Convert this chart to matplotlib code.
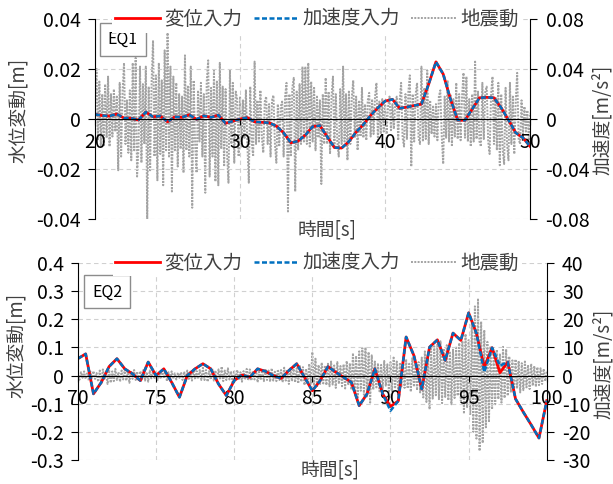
import matplotlib
matplotlib.use('Agg')
import matplotlib.pyplot as plt
import numpy as np

plt.rcParams['font.family'] = ['Noto Sans CJK JP', 'DejaVu Sans']
plt.rcParams['axes.unicode_minus'] = False

# ---- EQ1 : water level response (m), sampled every 0.5 s from 20 s to 50 s
eq1_time = np.arange(20.0, 50.01, 0.5)
eq1_disp = [0.0019, 0.0014, 0.0012, 0.0020, 0.0004, 0.0003, -0.0004, 0.0028, 0.0009, 0.0012,
            -0.0011, 0.0009, 0.0007, 0.0017, -0.0001, 0.0013, 0.0007, 0.0016, -0.0017, -0.0008,
            0.0000, 0.0006, -0.0011, -0.0013, -0.0015, -0.0028, -0.0055, -0.0095, -0.0088, -0.0064,
            -0.0030, -0.0026, -0.0070, -0.0114, -0.0116, -0.0090, -0.0052, -0.0022, 0.0015, 0.0045,
            0.0072, 0.0079, 0.0043, 0.0048, 0.0054, 0.0060, 0.0140, 0.0229, 0.0180, 0.0080,
            -0.0004, -0.0005, 0.0040, 0.0085, 0.0087, 0.0085, 0.0045, -0.0004, -0.0055, -0.0075,
            -0.0110]
eq1_acc = [0.0019, 0.0014, 0.0012, 0.0020, 0.0004, 0.0003, -0.0004, 0.0028, 0.0009, 0.0012,
           -0.0011, 0.0009, 0.0007, 0.0017, -0.0001, 0.0013, 0.0007, 0.0016, -0.0017, -0.0008,
           0.0000, 0.0006, -0.0011, -0.0013, -0.0015, -0.0028, -0.0055, -0.0095, -0.0088, -0.0064,
           -0.0030, -0.0026, -0.0070, -0.0114, -0.0116, -0.0090, -0.0052, -0.0022, 0.0015, 0.0045,
           0.0072, 0.0079, 0.0043, 0.0048, 0.0054, 0.0060, 0.0140, 0.0229, 0.0180, 0.0080,
           -0.0004, -0.0005, 0.0040, 0.0085, 0.0087, 0.0085, 0.0045, -0.0004, -0.0055, -0.0075,
           -0.0110]

# EQ1 ground acceleration (m/s2), every 0.1 s, one row per second
eq1_gm_time = np.arange(20.0, 50.001, 0.1)
eq1_gm = [
    0.010, 0.041, -0.017, 0.030, -0.022, 0.020, -0.022, 0.028, -0.015, 0.034,
    -0.022, 0.020, -0.014, 0.024, -0.010, 0.018, -0.041, 0.029, -0.030, 0.022,
    0.045, -0.020, 0.015, -0.027, 0.023, -0.033, 0.045, -0.025, 0.049, -0.046,
    -0.022, 0.042, -0.035, 0.028, -0.020, 0.042, -0.081, 0.026, -0.041, 0.030,
    0.063, -0.030, 0.035, -0.049, 0.045, -0.028, 0.031, -0.053, 0.055, -0.025,
    0.073, -0.030, 0.042, -0.058, 0.034, -0.025, 0.029, -0.038, 0.020, -0.024,
    0.018, -0.043, 0.051, -0.025, 0.026, -0.030, 0.042, -0.071, 0.031, -0.020,
    -0.043, 0.022, -0.018, 0.029, -0.030, 0.020, -0.059, 0.030, 0.047, -0.046,
    0.025, -0.030, 0.039, -0.050, 0.030, -0.053, 0.045, -0.024, 0.026, -0.038,
    0.024, -0.028, -0.051, 0.039, -0.020, 0.029, -0.035, 0.022, 0.016, -0.030,
    0.018, -0.022, 0.015, -0.016, 0.023, -0.020, -0.051, 0.026, -0.018, -0.030,
    0.046, -0.020, 0.015, -0.018, 0.023, -0.015, -0.027, 0.014, 0.018, -0.020,
    0.012, -0.030, 0.015, 0.019, -0.020, -0.035, 0.012, -0.022, 0.010, 0.014,
    -0.030, 0.018, 0.029, -0.074, 0.020, -0.030, 0.025, 0.033, -0.058, 0.022,
    -0.025, 0.028, -0.020, 0.042, -0.018, 0.042, -0.020, 0.045, -0.022, 0.030,
    -0.018, 0.026, -0.025, 0.018, -0.015, 0.015, -0.052, 0.020, -0.020, 0.033,
    -0.020, 0.022, -0.028, 0.018, 0.034, -0.022, 0.020, -0.018, -0.030, 0.024,
    -0.020, 0.042, -0.018, 0.020, -0.033, 0.022, -0.020, 0.018, 0.031, -0.015,
    0.018, -0.025, 0.015, -0.014, 0.025, -0.015, 0.012, -0.017, 0.015, 0.021,
    -0.014, 0.016, -0.012, 0.018, 0.029, -0.017, 0.014, -0.012, 0.016, -0.010,
    0.012, -0.012, 0.010, 0.018, -0.010, 0.012, -0.008, 0.014, 0.018, -0.017,
    0.015, 0.029, -0.015, -0.022, 0.020, -0.016, 0.022, 0.035, -0.038, 0.020,
    -0.018, 0.020, 0.029, -0.015, -0.020, 0.042, -0.018, 0.025, -0.016, 0.039,
    -0.020, 0.015, -0.012, 0.010, -0.014, 0.012, -0.017, 0.018, 0.023, -0.014,
    -0.036, 0.018, -0.015, 0.031, -0.018, 0.020, -0.022, 0.016, -0.014, 0.029,
    -0.016, 0.020, -0.017, 0.018, 0.037, -0.015, 0.034, -0.018, 0.016, -0.022,
    0.020, -0.018, 0.046, -0.016, 0.022, -0.018, -0.022, 0.029, -0.016, 0.022,
    0.026, -0.018, -0.028, 0.020, 0.034, -0.020, 0.018, -0.025, 0.029, -0.037,
    0.020, -0.025, -0.036, 0.025, -0.020, -0.033, 0.029, -0.020, 0.018, -0.028,
    0.015, 0.037, -0.016, -0.020, 0.015, -0.012, 0.010, -0.010, 0.007, -0.017,
    0.005]

# ---- EQ2 : water level response (m), every 0.5 s from 70 s to 100 s
eq2_time = np.arange(70.0, 100.01, 0.5)
eq2_disp = [0.060, 0.077, -0.065, -0.024, 0.032, 0.060, 0.024, 0.006, -0.018, 0.048,
            0.000, 0.024, -0.024, -0.077, 0.000, 0.024, 0.042, 0.024, -0.030, -0.071,
            -0.018, 0.002, -0.006, 0.024, 0.015, 0.000, -0.010, 0.018, 0.042, -0.006,
            -0.054, -0.018, 0.032, 0.012, -0.006, -0.024, -0.107, -0.065, 0.024, -0.065,
            -0.110, -0.090, 0.137, 0.071, -0.048, 0.101, 0.127, 0.054, 0.151, 0.125,
            0.223, 0.150, 0.030, 0.099, 0.010, 0.048, -0.083, -0.130, -0.175, -0.222,
            -0.089]
eq2_acc = [0.060, 0.077, -0.065, -0.024, 0.032, 0.060, 0.024, 0.006, -0.018, 0.048,
           0.000, 0.024, -0.024, -0.077, 0.000, 0.024, 0.042, 0.024, -0.030, -0.071,
           -0.018, 0.002, -0.006, 0.024, 0.015, 0.000, -0.010, 0.018, 0.042, -0.006,
           -0.054, -0.018, 0.032, 0.012, -0.006, -0.024, -0.107, -0.065, 0.024, -0.065,
           -0.125, -0.090, 0.137, 0.071, -0.048, 0.101, 0.127, 0.054, 0.151, 0.125,
           0.223, 0.150, 0.012, 0.099, 0.035, 0.048, -0.083, -0.130, -0.175, -0.222,
           -0.089]

# EQ2 ground acceleration (m/s2), every 0.1 s
eq2_gm_time = np.arange(70.0, 100.001, 0.1)
eq2_gm = [
    1.0, -1.5, 1.2, -0.8, 1.5, -1.2, 0.8, -1.8, 1.4, -1.0,
    1.6, -1.2, 0.9, -2.2, 1.8, -2.8, 2.2, -1.5, 1.2, -3.0,
    2.0, -2.6, 1.5, -2.0, 2.4, -1.6, 1.2, -2.2, 1.8, -1.4,
    2.2, -1.8, 1.5, -2.6, 1.8, -1.2, 2.0, -1.6, 1.4, -2.0,
    1.6, -1.4, 2.2, -1.8, 1.2, -2.2, 1.8, -1.0, 1.5, -1.2,
    1.2, -1.6, 1.0, -1.2, 1.8, -1.0, 1.4, -2.0, 1.2, -1.5,
    1.5, -1.2, 0.8, -1.4, 1.0, -0.8, 1.2, -1.6, 1.4, -1.0,
    1.8, -1.2, 1.4, -1.8, 2.2, -1.4, 1.6, -1.2, 2.0, -1.6,
    2.8, -1.6, 2.0, -2.2, 1.6, -1.4, 2.4, -1.8, 1.8, -2.0,
    2.2, -1.5, 3.2, -2.0, 1.8, -1.6, 2.6, -1.4, 1.5, -2.4,
    1.8, -1.4, 2.0, -1.6, 1.2, -2.2, 1.6, -1.4, 2.4, -1.8,
    2.2, -1.8, 1.6, -1.4, 2.0, -2.4, 1.4, -1.6, 1.8, -2.0,
    2.4, -1.6, 1.8, -2.2, 2.6, -1.8, 1.4, -2.0, 2.2, -1.6,
    2.0, -2.4, 2.8, -1.8, 2.2, -3.0, 2.6, -2.0, 3.0, -2.4,
    2.6, -2.8, 3.4, -2.2, 3.0, -3.4, 2.4, -2.6, 4.2, -3.0,
    8.4, -3.6, 6.0, -4.2, 3.8, -3.0, 4.6, -2.8, 3.6, -3.4,
    4.2, -3.8, 5.0, -3.2, 3.6, -4.4, 4.8, -3.0, 3.4, -3.8,
    4.0, -4.6, 5.2, -3.4, 4.4, -5.0, 8.0, -6.0, 7.0, -7.8,
    8.6, -5.4, 9.8, -6.8, 10.0, -7.4, 8.4, -9.6, 7.2, -5.0,
    5.0, -4.2, 4.4, -5.6, 3.8, -4.8, 5.2, -3.6, 4.0, -6.2,
    4.8, -5.6, 6.4, -4.2, 5.0, -6.8, 4.6, -3.8, 5.4, -4.4,
    5.8, -4.6, 4.2, -5.8, 6.2, -4.0, 3.6, -5.2, 4.8, -6.0,
    6.4, -7.8, 8.6, -9.4, 7.2, -12.0, 9.6, -8.2, 10.4, -7.0,
    11.0, -8.4, 12.2, -9.8, 9.6, -7.6, 10.8, -8.8, 8.2, -10.2,
    9.2, -8.0, 10.4, -7.2, 11.6, -9.0, 12.4, -13.6, 14.8, -11.2,
    12.6, -14.0, 18.4, -20.0, 24.6, -22.4, 27.4, -26.8, 19.2, -24.0,
    16.2, -18.4, 12.0, -16.6, 10.4, -12.0, 8.6, -10.2, 9.2, -8.4,
    7.8, -9.6, 10.2, -8.0, 9.4, -7.2, 6.8, -6.0, 5.4, -6.4,
    5.8, -4.6, 5.2, -6.0, 4.4, -5.2, 5.0, -4.2, 3.8, -4.8,
    4.2, -3.6, 3.4, -4.0, 3.0, -3.4, 2.6, -3.0, 2.4, -2.0,
    1.6]

series_names = ['変位入力', '加速度入力', '地震動']

RED = '#ff0000'
BLUE = '#0070c0'
GRAY = '#a3a3a3'
GRID = '#d0d0d0'
TXT = '#404040'


def draw_panel(ax, t, disp, acc, t_gm, gm, xticks, yl, yl_ticks, yr, yr_ticks,
               tag, tag_xy, ylab_xy, yrlab_xy, xlab_xy):
    axr = ax.twinx()
    ax.set_zorder(axr.get_zorder() + 1)
    ax.patch.set_visible(False)

    hg, = axr.plot(t_gm, gm, color=GRAY, lw=1.4, ls=(0, (1, 0.7)))
    hr, = ax.plot(t, disp, color=RED, lw=2.0)
    hb, = ax.plot(t, acc, color=BLUE, lw=1.8, ls=(0, (2, 1)))

    ax.set_xlim(xticks[0], xticks[-1])
    ax.set_xticks(xticks)
    ax.set_ylim(yl)
    ax.set_yticks(yl_ticks)
    ax.set_yticklabels(['%g' % v for v in yl_ticks])
    axr.set_ylim(yr)
    axr.set_yticks(yr_ticks)
    axr.set_yticklabels(['%g' % v for v in yr_ticks])

    ax.grid(True, color=GRID, ls=(0, (4, 3)), lw=0.8)

    for s in ['top', 'right']:
        ax.spines[s].set_visible(False)
    for s in ['top', 'bottom', 'left']:
        axr.spines[s].set_visible(False)
    ax.spines['bottom'].set_position(('data', 0))
    ax.spines['bottom'].set_color('black')
    ax.spines['left'].set_color('black')
    axr.spines['right'].set_color('black')

    ax.tick_params(axis='x', direction='out', length=4, pad=5, labelsize=14, colors='black')
    ax.tick_params(axis='y', direction='out', length=5, pad=5, labelsize=14, colors='black')
    axr.tick_params(axis='y', direction='out', length=5, pad=6, labelsize=14, colors='black')

    # axis titles placed by their centres
    ax.text(ylab_xy[0], ylab_xy[1], '水位変動[m]', transform=ax.transAxes, rotation=90,
            ha='center', va='center', fontsize=13.5, color=TXT)
    ax.text(yrlab_xy[0], yrlab_xy[1], '加速度[m/s²]', transform=ax.transAxes, rotation=90,
            ha='center', va='center', fontsize=13.5, color=TXT)
    ax.text(xlab_xy[0], xlab_xy[1], '時間[s]', transform=ax.transAxes,
            ha='center', va='center', fontsize=13.5, color=TXT)

    ax.text(tag_xy[0], tag_xy[1], tag, transform=ax.transAxes, ha='center', va='center',
            fontsize=11.5, color='black',
            bbox=dict(boxstyle='square,pad=0.5', fc='white', ec='#8c8c8c', lw=1))

    leg = ax.legend([hr, hb, hg], series_names, loc='center', bbox_to_anchor=(0.51, 1.0),
                    ncol=3, fontsize=14, frameon=True, facecolor='white', edgecolor='none',
                    framealpha=1, fancybox=False, handlelength=2.3, handletextpad=0.2,
                    columnspacing=0.6, borderpad=0.15)
    for txt in leg.get_texts():
        txt.set_color(TXT)


fig = plt.figure(figsize=(6.13, 4.84), dpi=100)

ax1 = fig.add_axes([0.155, 0.5475, 0.710, 0.413])
draw_panel(ax1, eq1_time, eq1_disp, eq1_acc, eq1_gm_time, eq1_gm,
           [20, 30, 40, 50], (-0.04, 0.04), [-0.04, -0.02, 0, 0.02, 0.04],
           (-0.08, 0.08), [-0.08, -0.04, 0, 0.04, 0.08],
           'EQ1', (0.064, 0.897), (-0.176, 0.545), (1.166, 0.495), (0.534, -0.055))

ax2 = fig.add_axes([0.127, 0.0496, 0.765, 0.407])
draw_panel(ax2, eq2_time, eq2_disp, eq2_acc, eq2_gm_time, eq2_gm,
           [70, 75, 80, 85, 90, 95, 100], (-0.3, 0.4),
           [-0.3, -0.2, -0.1, 0, 0.1, 0.2, 0.3, 0.4],
           (-30, 40), [-30, -20, -10, 0, 10, 20, 30, 40],
           'EQ2', (0.063, 0.853), (-0.131, 0.584), (1.1215, 0.487), (0.537, -0.051))

fig.savefig('out.png', dpi=100, facecolor='white')
